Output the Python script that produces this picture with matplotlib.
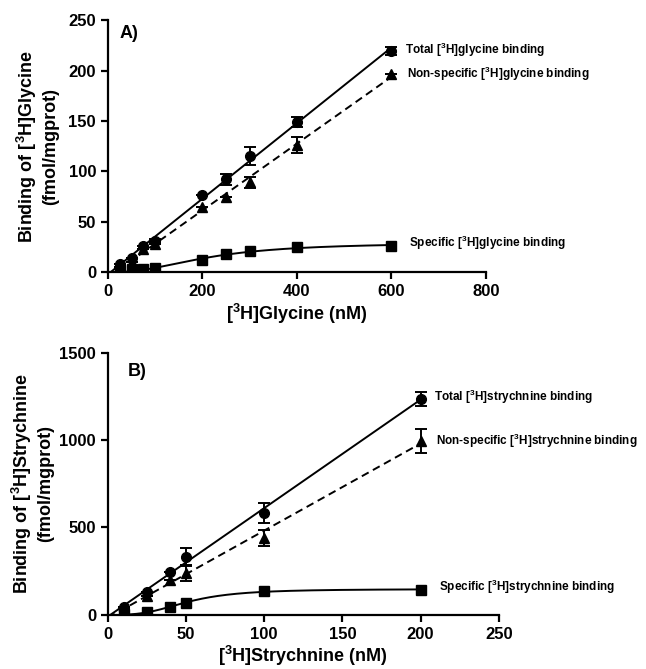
"""
Saturation binding of [3H]glycine and [3H]strychnine
"""

import matplotlib.pyplot as plt
import numpy as np

plt.rcParams["font.family"] = ["Liberation Sans", "DejaVu Sans"]
plt.rcParams["font.weight"] = "bold"
plt.rcParams["mathtext.fontset"] = "custom"
plt.rcParams["mathtext.rm"] = "Liberation Sans:bold"
plt.rcParams["mathtext.bf"] = "Liberation Sans:bold"

# Panel A: glycine (nM)
gly_x = [25, 50, 75, 100, 200, 250, 300, 400, 600]
gly_total = [8, 14, 26, 31, 77, 92, 115, 149, 219]
gly_total_err = [0, 0, 0, 2, 0, 5, 9, 5, 4]
gly_nonspec = [5, 10, 23, 28, 65, 75, 89, 126, 197]
gly_nonspec_err = [0, 0, 0, 0, 0, 0, 5, 8, 0]
gly_spec = [2, 3, 3, 4, 12, 18, 21, 25, 26]

# Panel B: strychnine (nM)
str_x = [10, 25, 40, 50, 100, 200]
str_total = [46, 132, 246, 332, 584, 1236]
str_total_err = [0, 0, 0, 50, 57, 40]
str_nonspec = [34, 109, 200, 240, 440, 995]
str_nonspec_err = [0, 0, 0, 45, 46, 68]
str_spec = [5, 17, 46, 69, 135, 143]


# Hill fit for the specific binding (crude grid search, Bmax by least squares)
def hill_fit(x, y):
    x = np.asarray(x, float)
    y = np.asarray(y, float)
    best = None
    for kd in np.linspace(x.min(), x.max(), 200):
        for n in np.linspace(1, 5, 81):
            f = x**n / (kd**n + x**n)
            bmax = np.dot(f, y) / np.dot(f, f)
            err = np.sum((bmax * f - y) ** 2)
            if best is None or err < best[0]:
                best = (err, bmax, kd, n)
    _, bmax, kd, n = best
    return lambda t: bmax * t**n / (kd**n + t**n)


def style_axes(ax):
    for side in ["top", "right"]:
        ax.spines[side].set_visible(False)
    for side in ["left", "bottom"]:
        ax.spines[side].set_linewidth(1.6)
    ax.tick_params(width=1.6, length=5, labelsize=12)
    for lab in ax.get_xticklabels() + ax.get_yticklabels():
        lab.set_fontweight("bold")


def draw_panel(ax, x, total, total_err, nonspec, nonspec_err, spec, name):
    x = np.array(x)
    xs = np.array([0, x.max()])

    # linear fits for total and non-specific
    p_tot = np.polyfit(x, total, 1)
    p_ns = np.polyfit(x, nonspec, 1)
    ax.plot(xs, np.polyval(p_tot, xs), color="black", lw=1.4)
    ax.plot(xs, np.polyval(p_ns, xs), color="black", lw=1.4, ls=(0, (4, 2.5)))

    hill = hill_fit(x, spec)
    xx = np.linspace(x.min(), x.max(), 300)
    ax.plot(xx, hill(xx), color="black", lw=1.4)

    ax.errorbar(x, total, yerr=total_err, fmt="o", color="black",
                markersize=7, capsize=4, elinewidth=1.4, capthick=1.4)
    ax.errorbar(x, nonspec, yerr=nonspec_err, fmt="^", color="black",
                markersize=7, capsize=4, elinewidth=1.4, capthick=1.4)
    ax.plot(x, spec, "s", color="black", markersize=7)

    kw = dict(textcoords="offset points", fontsize=8.5, fontweight="bold",
              va="center", ha="left")
    ax.annotate(f"Total [$^{{3}}$H]{name} binding", (x[-1], total[-1]),
                xytext=(10, 1), **kw)
    ax.annotate(f"Non-specific [$^{{3}}$H]{name} binding", (x[-1], nonspec[-1]),
                xytext=(11, 0), **kw)
    ax.annotate(f"Specific [$^{{3}}$H]{name} binding", (x[-1], spec[-1]),
                xytext=(13, 2), **kw)


fig = plt.figure(figsize=(6.46, 6.69), dpi=100)

ax1 = fig.add_axes([0.167, 0.593, 0.585, 0.377])
draw_panel(ax1, gly_x, gly_total, gly_total_err, gly_nonspec,
           gly_nonspec_err, gly_spec, "glycine")
ax1.set_xlim(0, 800)
ax1.set_ylim(0, 250)
ax1.set_xticks([0, 200, 400, 600, 800])
ax1.set_yticks([0, 50, 100, 150, 200, 250])
ax1.set_xlabel("[$^{3}$H]Glycine (nM)", fontsize=13, fontweight="bold", labelpad=2)
ax1.set_ylabel("Binding of [$^{3}$H]Glycine\n(fmol/mgprot)", fontsize=13,
               fontweight="bold", labelpad=7)
ax1.text(0.03, 0.93, "A)", transform=ax1.transAxes, fontsize=13, fontweight="bold")
style_axes(ax1)

ax2 = fig.add_axes([0.167, 0.081, 0.605, 0.392])
draw_panel(ax2, str_x, str_total, str_total_err, str_nonspec,
           str_nonspec_err, str_spec, "strychnine")
ax2.set_xlim(0, 250)
ax2.set_ylim(0, 1500)
ax2.set_xticks([0, 50, 100, 150, 200, 250])
ax2.set_yticks([0, 500, 1000, 1500])
ax2.set_xlabel("[$^{3}$H]Strychnine (nM)", fontsize=13, fontweight="bold", labelpad=2)
ax2.set_ylabel("Binding of [$^{3}$H]Strychnine\n(fmol/mgprot)", fontsize=13,
               fontweight="bold", labelpad=4)
ax2.text(0.05, 0.91, "B)", transform=ax2.transAxes, fontsize=13, fontweight="bold")
style_axes(ax2)

fig.savefig("out.png", dpi=100)
